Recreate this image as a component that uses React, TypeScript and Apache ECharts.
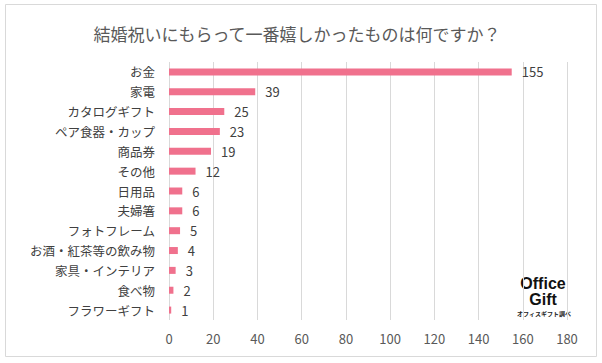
import React, { useEffect, useRef } from "react";
import * as echarts from "echarts";

const titleText = "結婚祝いにもらって一番嬉しかったものは何ですか？";
const categories = [
  "お金",
  "家電",
  "カタログギフト",
  "ペア食器・カップ",
  "商品券",
  "その他",
  "日用品",
  "夫婦箸",
  "フォトフレーム",
  "お酒・紅茶等の飲み物",
  "家具・インテリア",
  "食べ物",
  "フラワーギフト",
];
const values = [155, 39, 25, 23, 19, 12, 6, 6, 5, 4, 3, 2, 1];
const axisMin = 0;
const axisMax = 180;
const axisInterval = 20;

const FONT = "'Noto Sans CJK JP', 'Noto Sans', sans-serif";

export default function App() {
  const ref = useRef<HTMLDivElement>(null);
  useEffect(() => {
    if (!ref.current) return;
    const chart = echarts.init(ref.current, null, { renderer: "svg" });
    chart.setOption({
      animation: false,
      backgroundColor: "#ffffff",
      title: {
        text: titleText,
        left: 292,
        textAlign: "center",
        top: 20,
        textStyle: {
          fontFamily: FONT,
          fontSize: 17,
          fontWeight: "normal",
          color: "#595959",
        },
      },
      grid: { left: 169, right: 35, top: 62, bottom: 43, containLabel: false },
      xAxis: {
        type: "value",
        min: axisMin,
        max: axisMax,
        interval: axisInterval,
        axisLine: { show: false },
        axisTick: { show: false },
        splitLine: { show: true, lineStyle: { color: "#d9d9d9", width: 1 } },
        axisLabel: {
          fontFamily: FONT,
          fontSize: 13,
          color: "#595959",
          margin: 12,
        },
      },
      yAxis: {
        type: "category",
        data: categories,
        inverse: true,
        axisLine: { show: false },
        axisTick: { show: false },
        axisLabel: {
          fontFamily: FONT,
          fontSize: 12.5,
          color: "#404040",
          margin: 14,
        },
      },
      series: [
        {
          type: "bar",
          data: values,
          barWidth: 7,
          itemStyle: { color: "#F0718D" },
          label: {
            show: true,
            position: "right",
            distance: 10,
            fontFamily: FONT,
            fontSize: 13,
            color: "#404040",
          },
        },
      ],
      graphic: [
        {
          type: "rect",
          shape: { x: 5.5, y: 4.5, width: 591, height: 352 },
          style: { fill: "none", stroke: "#d9d9d9", lineWidth: 1 },
          silent: true,
        },
        {
          type: "text",
          x: 543,
          y: 291,
          style: {
            text: "Office\nGift",
            font: "bold 16px 'Liberation Sans', Arial, sans-serif",
            lineHeight: 16,
            fill: "#111111",
            align: "center",
            verticalAlign: "middle",
          },
        },
        {
          type: "text",
          x: 544,
          y: 313,
          style: {
            text: "オフィスギフト調べ",
            font: "bold 6px 'Noto Sans CJK JP', sans-serif",
            fill: "#222222",
            align: "center",
            verticalAlign: "middle",
          },
        },
      ],
    });
    return () => chart.dispose();
  }, []);
  return (
    <div
      ref={ref}
      style={{ position: "fixed", left: 0, top: 0, width: 602, height: 363 }}
    />
  );
}
